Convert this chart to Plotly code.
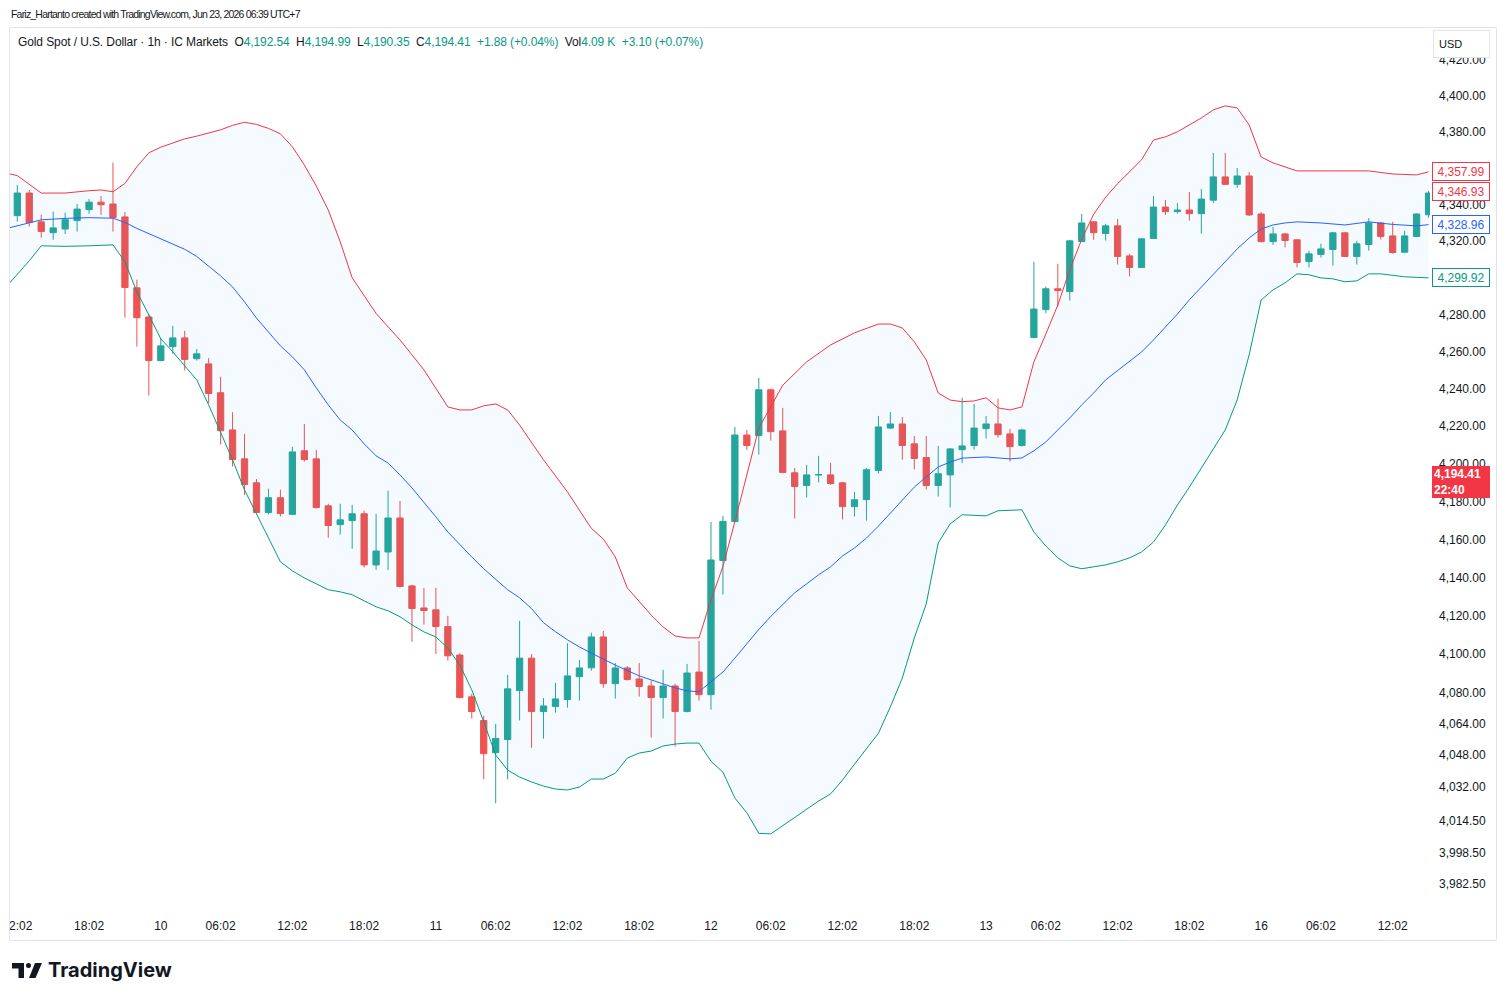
import math
import plotly.graph_objects as go

# ---------------- data ----------------
opens = [4333.9, 4346.3, 4330.5, 4324.6, 4326.6, 4331.2, 4337.2, 4341.3, 4340.3, 4333.2,
         4294.5, 4278.7, 4255.2, 4262.7, 4267.4, 4256.2, 4253.4, 4237.9, 4218.0, 4202.6,
         4189.9, 4174.2, 4182.0, 4173.2, 4206.9, 4202.6, 4177.7, 4167.8, 4169.9, 4173.5,
         4146.6, 4153.4, 4171.3, 4135.6, 4124.1, 4123.1, 4114.4, 4099.6, 4078.0, 4065.8,
         4049.3, 4056.0, 4081.2, 4098.0, 4070.4, 4073.0, 4076.6, 4088.4, 4093.0, 4109.0,
         4084.8, 4092.9, 4087.2, 4083.6, 4077.6, 4083.6, 4070.4, 4090.8, 4079.1, 4148.9,
         4169.4, 4215.3, 4215.0, 4239.5, 4217.5, 4195.2, 4188.5, 4194.0, 4194.1, 4189.9,
         4177.3, 4181.0, 4196.4, 4219.0, 4221.2, 4210.6, 4203.3, 4188.5, 4194.1, 4207.5,
         4209.7, 4218.7, 4221.2, 4215.9, 4209.7, 4267.6, 4282.7, 4294.0, 4292.5, 4319.7,
         4330.5, 4324.1, 4328.3, 4311.9, 4305.6, 4321.4, 4338.6, 4336.1, 4337.0, 4335.0,
         4342.4, 4355.2, 4351.1, 4355.7, 4334.8, 4319.7, 4323.9, 4320.7, 4308.8, 4312.7,
         4315.4, 4324.5, 4311.6, 4318.1, 4329.9, 4322.8, 4313.9, 4322.5, 4334.4]
highs = [4350.7, 4348.0, 4334.3, 4336.1, 4335.5, 4340.3, 4343.0, 4344.7, 4363.1, 4335.9,
         4298.9, 4280.3, 4267.3, 4273.9, 4271.2, 4261.4, 4256.5, 4246.5, 4227.5, 4215.9,
         4191.9, 4186.8, 4186.3, 4209.0, 4221.2, 4207.4, 4178.8, 4178.8, 4178.2, 4175.1,
         4173.5, 4185.7, 4180.3, 4136.2, 4134.6, 4134.6, 4120.0, 4100.5, 4079.5, 4068.2,
         4064.1, 4089.3, 4117.4, 4100.1, 4077.4, 4085.2, 4105.7, 4097.0, 4111.2, 4112.1,
         4095.5, 4093.9, 4095.5, 4086.4, 4091.9, 4084.8, 4095.0, 4106.9, 4169.2, 4172.4,
         4219.6, 4218.0, 4245.9, 4240.0, 4229.8, 4197.8, 4199.4, 4204.2, 4200.5, 4190.4,
         4185.1, 4197.8, 4225.5, 4227.6, 4224.9, 4214.8, 4214.8, 4209.5, 4208.4, 4235.2,
         4231.9, 4225.5, 4234.7, 4218.6, 4218.6, 4308.7, 4295.2, 4307.6, 4320.7, 4334.8,
         4330.8, 4329.4, 4332.1, 4313.0, 4321.5, 4344.7, 4342.5, 4340.8, 4346.9, 4348.5,
         4368.4, 4368.4, 4360.1, 4357.9, 4335.9, 4327.7, 4324.5, 4320.9, 4314.7, 4318.5,
         4325.0, 4325.0, 4320.1, 4332.6, 4330.2, 4330.5, 4325.6, 4335.1, 4347.5]
lows = [4330.6, 4327.9, 4321.9, 4320.7, 4323.9, 4325.2, 4335.0, 4334.3, 4325.2, 4278.3,
        4262.7, 4236.4, 4254.8, 4258.8, 4249.8, 4255.2, 4232.3, 4210.2, 4198.5, 4183.4,
        4173.8, 4173.2, 4172.1, 4172.8, 4201.2, 4176.3, 4160.9, 4162.5, 4155.1, 4145.2,
        4144.0, 4144.0, 4134.8, 4106.5, 4115.4, 4100.2, 4096.7, 4077.2, 4066.8, 4035.6,
        4023.5, 4035.6, 4065.8, 4051.8, 4056.5, 4069.9, 4072.4, 4076.1, 4091.5, 4082.7,
        4077.1, 4086.4, 4078.1, 4057.0, 4066.8, 4052.4, 4070.0, 4076.1, 4071.4, 4131.1,
        4169.0, 4207.4, 4204.9, 4212.3, 4195.0, 4171.0, 4182.1, 4190.1, 4188.7, 4170.5,
        4172.1, 4169.9, 4194.8, 4218.5, 4202.2, 4197.0, 4186.3, 4182.6, 4176.8, 4200.3,
        4207.5, 4213.4, 4213.9, 4201.2, 4209.1, 4267.2, 4280.7, 4284.3, 4287.6, 4319.5,
        4320.7, 4320.3, 4307.2, 4300.7, 4305.3, 4321.2, 4334.3, 4335.0, 4331.2, 4324.1,
        4340.8, 4350.8, 4349.2, 4333.7, 4319.2, 4317.9, 4316.5, 4305.6, 4305.6, 4311.0,
        4306.6, 4311.3, 4307.2, 4314.8, 4320.8, 4313.1, 4313.4, 4322.2, 4332.8]
closes = [4346.3, 4330.1, 4325.2, 4327.2, 4331.7, 4337.5, 4341.3, 4339.9, 4332.8, 4294.7,
          4278.3, 4255.2, 4263.1, 4267.4, 4255.8, 4258.8, 4237.5, 4217.6, 4202.2, 4189.0,
          4174.2, 4182.0, 4173.6, 4206.3, 4202.2, 4176.8, 4167.3, 4170.3, 4173.5, 4146.6,
          4153.9, 4171.3, 4135.3, 4123.8, 4122.7, 4114.4, 4099.2, 4077.6, 4070.4, 4048.8,
          4056.6, 4082.1, 4098.0, 4070.4, 4073.3, 4076.9, 4088.8, 4092.9, 4109.0, 4084.8,
          4092.9, 4086.9, 4083.3, 4077.6, 4083.6, 4070.4, 4090.3, 4079.1, 4149.2, 4169.5,
          4215.3, 4209.7, 4239.5, 4217.1, 4195.4, 4187.9, 4194.1, 4194.3, 4189.5, 4177.3,
          4180.9, 4196.8, 4219.6, 4221.2, 4209.7, 4202.8, 4188.5, 4194.7, 4207.9, 4209.5,
          4219.0, 4221.2, 4215.5, 4209.1, 4218.0, 4283.0, 4294.0, 4293.0, 4320.1, 4329.9,
          4324.6, 4328.3, 4311.6, 4305.6, 4321.2, 4338.6, 4336.1, 4337.0, 4335.0, 4343.0,
          4355.2, 4351.1, 4355.7, 4334.3, 4319.7, 4323.9, 4320.3, 4308.3, 4313.0, 4315.7,
          4324.5, 4311.6, 4318.5, 4329.9, 4322.5, 4313.7, 4322.8, 4334.8, 4346.3]
bar_idx = list(range(len(opens)))

# Bollinger bands, sampled at bar positions
upper_idx = [-1, 0, 2, 4, 6, 7, 8, 9, 10, 11, 12, 13, 14, 15, 16, 17, 18, 19, 20, 21, 22,
             23, 24, 25, 26, 27, 28, 30, 32, 34, 36, 37, 38, 39, 40, 41, 42, 44, 46, 48,
             49, 50, 51, 52, 53, 54, 55, 56, 57, 58, 59, 60, 61, 62, 64, 66, 68, 70, 72,
             73, 74, 75, 76, 77, 78, 79, 80, 81, 82, 83, 84, 85, 86, 87, 88, 89, 90, 91,
             92, 93, 94, 95, 96, 97, 98, 99, 100, 101, 102, 103, 104, 105, 106, 107, 110,
             113, 115, 117, 118]
upper_val = [4357.4, 4355.9, 4346.3, 4346.3, 4347.6, 4348.0, 4347.0, 4351.6, 4360.8, 4368.5,
             4371.6, 4373.7, 4376.2, 4377.7, 4379.5, 4381.2, 4383.7, 4385.4, 4384.2, 4382.0,
             4379.0, 4371.8, 4361.8, 4350.2, 4337.0, 4319.6, 4300.0, 4280.6, 4266.3, 4250.2,
             4230.3, 4228.7, 4228.7, 4230.9, 4231.9, 4228.7, 4220.6, 4202.1, 4185.1, 4165.8,
             4160.2, 4150.8, 4134.6, 4127.3, 4120.4, 4114.2, 4109.5, 4108.5, 4108.5, 4128.3,
             4145.8, 4169.4, 4193.9, 4219.0, 4241.9, 4254.5, 4263.6, 4270.1, 4274.9, 4274.9,
             4272.8, 4265.3, 4255.5, 4237.8, 4234.0, 4233.1, 4233.5, 4235.2, 4229.8, 4228.7,
             4230.3, 4254.5, 4269.5, 4285.2, 4304.3, 4321.0, 4334.7, 4344.0, 4351.5, 4357.9,
             4364.6, 4375.6, 4377.3, 4380.1, 4383.9, 4387.8, 4392.3, 4394.5, 4393.4, 4383.9,
             4366.2, 4362.9, 4360.7, 4358.5, 4358.5, 4358.5, 4356.8, 4356.3, 4357.99]

mid_idx = [-1, 0, 2, 4, 6, 8, 9, 10, 12, 14, 15, 16, 17, 18, 19, 20, 21, 22, 23, 24, 25,
           26, 27, 28, 29, 30, 31, 32, 33, 34, 35, 36, 37, 38, 39, 40, 41, 42, 43, 44, 45,
           46, 47, 48, 50, 52, 54, 55, 56, 57, 58, 59, 60, 61, 62, 63, 64, 65, 66, 67, 68,
           69, 70, 71, 72, 73, 74, 75, 76, 77, 78, 79, 80, 81, 82, 83, 84, 85, 86, 87, 88,
           89, 90, 91, 92, 93, 94, 95, 96, 97, 98, 99, 100, 101, 102, 103, 104, 105, 106,
           107, 109, 111, 113, 115, 117, 118]
mid_val = [4326.7, 4328.3, 4331.6, 4332.4, 4332.8, 4332.5, 4330.2, 4326.9, 4321.2, 4315.5,
           4311.6, 4306.5, 4301.0, 4295.0, 4286.9, 4278.1, 4270.6, 4263.1, 4257.2, 4250.2,
           4240.5, 4231.4, 4223.3, 4218.0, 4210.6, 4204.2, 4200.4, 4194.1, 4187.2, 4179.8,
           4171.9, 4163.9, 4157.1, 4150.8, 4144.6, 4138.9, 4133.6, 4129.4, 4123.7, 4116.4,
           4111.7, 4107.5, 4103.8, 4100.6, 4094.4, 4088.8, 4084.7, 4082.6, 4081.1, 4080.6,
           4085.8, 4090.8, 4098.0, 4105.7, 4112.9, 4119.7, 4125.7, 4132.0, 4136.7, 4141.4,
           4145.6, 4151.3, 4155.5, 4160.7, 4167.0, 4173.9, 4180.8, 4187.6, 4193.0, 4198.3,
           4200.9, 4203.0, 4203.3, 4203.6, 4203.1, 4202.6, 4203.1, 4206.9, 4211.6, 4218.0,
           4224.4, 4231.4, 4237.8, 4244.8, 4249.7, 4254.5, 4259.8, 4266.3, 4273.3, 4280.3,
           4288.0, 4295.0, 4302.1, 4309.2, 4315.7, 4321.7, 4326.6, 4328.8, 4329.9, 4330.5,
           4329.9, 4328.8, 4330.5, 4329.1, 4328.3, 4328.96]

lower_idx = [-1, 0, 1, 2, 4, 6, 8, 9, 10, 11, 12, 13, 14, 15, 16, 17, 18, 19, 20, 21, 22,
             23, 24, 25, 26, 27, 28, 29, 30, 31, 32, 33, 34, 35, 36, 37, 38, 39, 40, 41,
             42, 43, 44, 45, 46, 47, 48, 49, 50, 51, 52, 53, 54, 55, 56, 57, 58, 59, 60,
             61, 62, 63, 64, 65, 66, 67, 68, 69, 70, 71, 72, 73, 74, 75, 76, 77, 78, 79,
             80, 81, 82, 83, 84, 85, 86, 87, 88, 89, 90, 91, 92, 93, 94, 95, 96, 97, 98,
             99, 100, 101, 102, 103, 104, 105, 106, 107, 108, 109, 110, 111, 112, 113, 114,
             116, 118]
lower_val = [4294.5, 4301.6, 4309.2, 4317.4, 4317.1, 4317.4, 4317.9, 4308.7, 4292.3, 4279.8,
             4266.9, 4259.9, 4252.4, 4244.8, 4231.4, 4216.9, 4202.0, 4186.1, 4173.4, 4160.7,
             4148.2, 4143.5, 4139.8, 4136.7, 4133.6, 4132.5, 4131.0, 4127.8, 4124.7, 4122.6,
             4119.5, 4115.3, 4111.6, 4109.0, 4103.3, 4094.4, 4081.6, 4065.1, 4048.1, 4040.4,
             4036.8, 4034.3, 4032.2, 4030.7, 4030.2, 4031.7, 4035.8, 4035.8, 4038.8, 4046.5,
             4049.1, 4050.1, 4052.7, 4053.7, 4054.2, 4054.2, 4044.9, 4039.3, 4026.1, 4018.6,
             4008.2, 4007.9, 4012.0, 4016.5, 4020.6, 4024.6, 4028.2, 4035.3, 4043.4, 4051.6,
             4059.2, 4072.8, 4087.7, 4108.4, 4126.2, 4158.1, 4168.2, 4173.0, 4172.7, 4172.4,
             4175.1, 4175.3, 4175.6, 4163.9, 4156.5, 4150.3, 4146.1, 4144.6, 4145.6, 4146.6,
             4148.2, 4150.3, 4153.4, 4158.6, 4167.6, 4178.1, 4187.6, 4197.8, 4207.4, 4218.0,
             4234.1, 4258.3, 4287.9, 4293.4, 4297.2, 4302.1, 4301.6, 4299.9, 4299.4, 4297.8,
             4298.3, 4302.1, 4302.1, 4300.5, 4299.92]

time_tick_pos = [0, 6, 12, 17, 23, 29, 35, 40, 46, 52, 58, 63, 69, 75, 81, 86, 92, 98, 104, 109, 115]
time_tick_text = ["12:02", "18:02", "10", "06:02", "12:02", "18:02", "11", "06:02", "12:02", "18:02",
                  "12", "06:02", "12:02", "18:02", "13", "06:02", "12:02", "18:02", "16", "06:02", "12:02"]

price_ticks = [3982.5, 3998.5, 4014.5, 4032, 4048, 4064, 4080, 4100, 4120, 4140, 4160, 4180,
               4200, 4220, 4240, 4260, 4280, 4300, 4320, 4340, 4360, 4380, 4400, 4420]
price_tick_text = ["3,982.50", "3,998.50", "4,014.50", "4,032.00", "4,048.00", "4,064.00",
                   "4,080.00", "4,100.00", "4,120.00", "4,140.00", "4,160.00", "4,180.00",
                   "4,200.00", "4,220.00", "4,240.00", "4,260.00", "4,280.00", "4,300.00",
                   "4,320.00", "4,340.00", "4,360.00", "4,380.00", "4,400.00", "4,420.00"]

upper_last = 4357.99
close_label = 4346.93
mid_last = 4328.96
lower_last = 4299.92
last_price = 4194.41
countdown = "22:40"

header_text = "Fariz_Hartanto created with TradingView.com, Jun 23, 2026 06:39 UTC+7"
symbol_text = "Gold Spot / U.S. Dollar · 1h · IC Markets"
ohlc_labels = ["O", "H", "L", "C"]
ohlc_values = ["4,192.54", "4,194.99", "4,190.35", "4,194.41"]
change_text = "+1.88 (+0.04%)"
vol_value = "4.09 K"
vol_change = "+3.10 (+0.07%)"

# ---------------- styling / geometry ----------------
W, H = 1506, 1000
ML, MR, MT, MB = 10, 76, 28, 90
PW = W - ML - MR
PH = H - MT - MB
X_MIN, X_MAX = -0.61, 118.12
Y_MIN, Y_MAX = 3969.5, 4438.0

UP = "#26A69A"
DOWN = "#EF5350"
RED = "#F23645"
BLUE = "#2962FF"
GREEN = "#089981"
TXT = "#131722"
FONT = "Liberation Sans, Arial, sans-serif"


def px(x):
    return (x - ML) / PW


def py(y):
    return (MT + PH - y) / PH


fig = go.Figure()

# band fill
fig.add_trace(go.Scatter(
    x=upper_idx + lower_idx[::-1], y=upper_val + lower_val[::-1],
    fill="toself", fillcolor="rgba(33,150,243,0.05)", line=dict(width=0),
    mode="lines", hoverinfo="skip", showlegend=False))
fig.add_trace(go.Scatter(x=upper_idx, y=upper_val, mode="lines",
                         line=dict(color=RED, width=1), showlegend=False))
fig.add_trace(go.Scatter(x=lower_idx, y=lower_val, mode="lines",
                         line=dict(color=GREEN, width=1), showlegend=False))
fig.add_trace(go.Scatter(x=mid_idx, y=mid_val, mode="lines",
                         line=dict(color=BLUE, width=1), showlegend=False))

fig.add_trace(go.Candlestick(
    x=bar_idx, open=opens, high=highs, low=lows, close=closes,
    increasing=dict(line=dict(color=UP, width=1), fillcolor=UP),
    decreasing=dict(line=dict(color=DOWN, width=1), fillcolor=DOWN),
    whiskerwidth=0, showlegend=False))

annotations = []
annotations.append(dict(xref="paper", yref="paper", x=px(9), y=py(14), xanchor="left",
                        yanchor="middle",
                        text=f"<span style='letter-spacing:-0.8px'>{header_text}</span>",
                        showarrow=False,
                        font=dict(family=FONT, size=10.5, color=TXT)))

vals = "".join(
    f"{lab}<span style='color:{GREEN}'>{val}</span>&nbsp;&nbsp;"
    for lab, val in zip(ohlc_labels, ohlc_values))
legend_html = (f"{symbol_text}&nbsp;&nbsp;{vals}<span style='color:{GREEN}'>{change_text}</span>"
               f"&nbsp;&nbsp;Vol<span style='color:{GREEN}'>{vol_value}</span>&nbsp;&nbsp;"
               f"<span style='color:{GREEN}'>{vol_change}</span>")
annotations.append(dict(xref="paper", yref="paper", x=px(16), y=py(42), xanchor="left",
                        yanchor="middle",
                        text=f"<span style='letter-spacing:-0.1px'>{legend_html}</span>",
                        showarrow=False,
                        font=dict(family=FONT, size=12, color=TXT)))

# price labels on the scale
for val, col in [(upper_last, RED), (close_label, RED), (mid_last, BLUE), (lower_last, GREEN)]:
    annotations.append(dict(xref="paper", yref="y", x=px(1461), y=math.log10(val),
                            xanchor="center", yanchor="middle", text=f"{val:,.2f}",
                            showarrow=False, bgcolor="white", bordercolor=col, borderwidth=1,
                            borderpad=1, width=54, height=15,
                            font=dict(family=FONT, size=12, color=col)))
annotations.append(dict(xref="paper", yref="y", x=px(1461), y=math.log10(last_price),
                        xanchor="center", yanchor="middle", yshift=-8,
                        text=f"<b>{last_price:,.2f}<br>{countdown}</b>", align="left",
                        showarrow=False, bgcolor=RED, bordercolor=RED, borderwidth=1,
                        borderpad=1, width=54, height=28,
                        font=dict(family=FONT, size=12, color="white")))
annotations.append(dict(xref="paper", yref="paper", x=px(1461.5), y=py(44.5),
                        xanchor="center", yanchor="middle", text="&nbsp;USD", align="left",
                        showarrow=False, bgcolor="white", bordercolor="#E0E3EB", borderwidth=1,
                        borderpad=2, width=51, height=22,
                        font=dict(family=FONT, size=11, color=TXT)))
annotations.append(dict(xref="paper", yref="paper", x=px(46), y=py(970), xanchor="left",
                        yanchor="middle", text="<b>TradingView</b>", showarrow=False,
                        font=dict(family="Inter, " + FONT, size=20, color=TXT)))

shapes = [
    # mask that clips the first time label at the chart's left border
    dict(type="rect", xref="paper", yref="paper", x0=px(0), x1=px(9.5),
         y0=py(945), y1=py(905), fillcolor="white", line=dict(width=0), layer="above"),
    dict(type="rect", xref="paper", yref="paper", x0=px(9.5), x1=px(1496.5),
         y0=py(27.5), y1=py(940.5), line=dict(color="#E0E3EB", width=1), layer="above"),
    # TradingView logo
    dict(type="path", xref="paper", yref="paper",
         path=(f"M {px(12)},{py(963)} L {px(24)},{py(963)} L {px(24)},{py(978)} "
               f"L {px(18.5)},{py(978)} L {px(18.5)},{py(968.5)} L {px(12)},{py(968.5)} Z"),
         fillcolor=TXT, line=dict(width=0)),
    dict(type="circle", xref="paper", yref="paper", x0=px(26), x1=px(31),
         y0=py(963), y1=py(968), fillcolor=TXT, line=dict(width=0)),
    dict(type="path", xref="paper", yref="paper",
         path=(f"M {px(35)},{py(963)} L {px(42)},{py(963)} L {px(35.5)},{py(978)} "
               f"L {px(29)},{py(978)} Z"),
         fillcolor=TXT, line=dict(width=0)),
]

fig.update_layout(
    width=W, height=H,
    margin=dict(l=ML, r=MR, t=MT, b=MB, autoexpand=False),
    paper_bgcolor="white", plot_bgcolor="white",
    showlegend=False,
    boxgap=0.25,
    annotations=annotations,
    shapes=shapes,
    font=dict(family=FONT, color=TXT),
    xaxis=dict(range=[X_MIN, X_MAX], showgrid=False, zeroline=False, showline=False,
               tickmode="array", tickvals=time_tick_pos, ticktext=time_tick_text,
               tickfont=dict(family=FONT, size=12, color=TXT), ticks="",
               ticklabelstandoff=7, ticklabeloverflow="allow", automargin=False,
               rangeslider=dict(visible=False), fixedrange=True),
    yaxis=dict(type="log", side="right",
               range=[math.log10(Y_MIN), math.log10(Y_MAX)],
               showgrid=False, zeroline=False, showline=False,
               tickmode="array", tickvals=price_ticks, ticktext=price_tick_text,
               tickfont=dict(family=FONT, size=12, color=TXT), ticks="",
               ticklabelstandoff=8, automargin=False, fixedrange=True),
)

fig.write_html("out.html")
